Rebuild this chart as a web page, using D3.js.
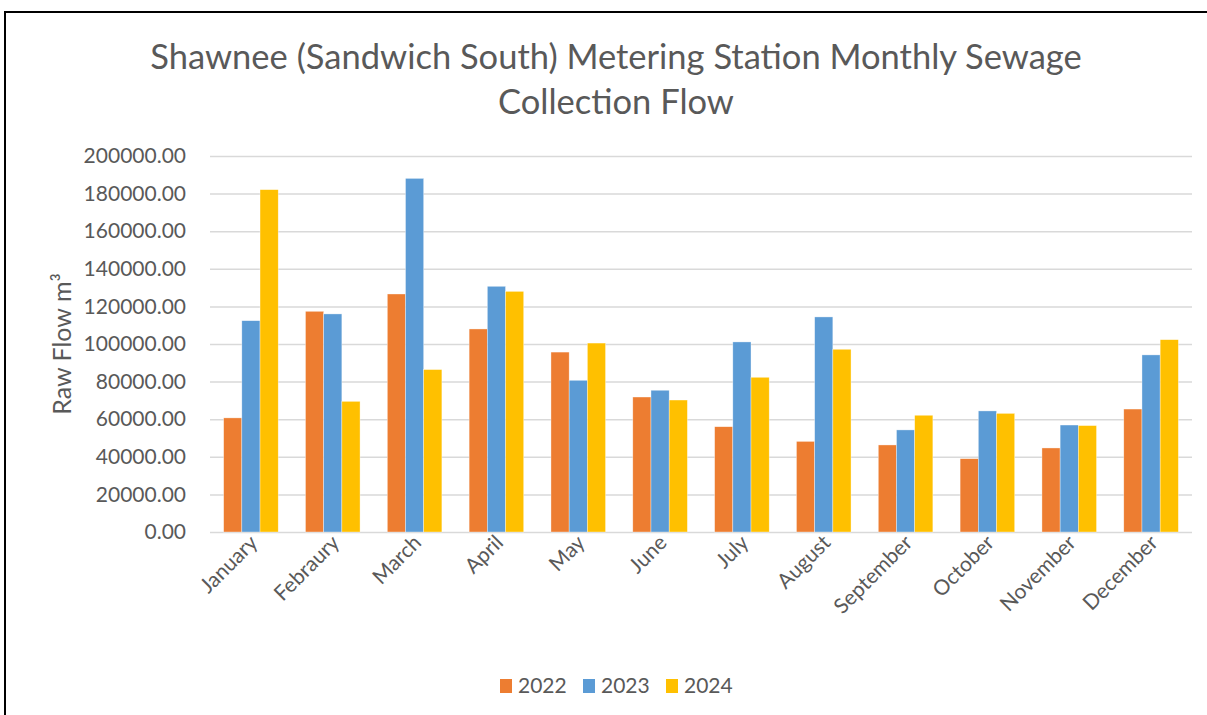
<!DOCTYPE html>
<html>
<head>
<meta charset="utf-8">
<script src="https://cdn.jsdelivr.net/npm/d3@7"></script>
<style>
  html, body { margin: 0; padding: 0; background: #fff; }
  text { font-family: Lato, "Open Sans", sans-serif; fill: #595959; }
</style>
</head>
<body>
<div id="chart"></div>
<script>
const months = ['January', 'Febraury', 'March', 'April', 'May', 'June', 'July',
  'August', 'September', 'October', 'November', 'December'];
const years = ['2022', '2023', '2024'];
const flow2022 = [60700, 117400, 126600, 108000, 95700, 71800, 56000, 48200, 46300, 39000, 44700, 65400];
const flow2023 = [112400, 116000, 188100, 130700, 80700, 75400, 101100, 114400, 54300, 64400, 56900, 94200];
const flow2024 = [182100, 69500, 86400, 128000, 100500, 70200, 82300, 97200, 62100, 63100, 56600, 102300];
const yTicks = [0, 20000, 40000, 60000, 80000, 100000, 120000, 140000, 160000, 180000, 200000];
const colors = ['#ED7D31', '#5B9BD5', '#FFC000'];

(function() {
  const W = 1207, H = 715;
  const margin = { top: 156, right: 15, bottom: 183, left: 210 };
  const width = W - margin.left - margin.right;
  const height = H - margin.top - margin.bottom;

  const svg = d3.select('#chart').append('svg')
    .attr('width', W).attr('height', H);

  // outer frame
  svg.append('rect')
    .attr('x', 5).attr('y', 12).attr('width', 1300).attr('height', 800)
    .attr('fill', 'none').attr('stroke', '#000').attr('stroke-width', 2);

  // title
  const title = svg.append('text')
    .attr('text-anchor', 'middle')
    .attr('font-size', '34.5px');
  title.append('tspan').attr('x', 616).attr('y', 69)
    .text('Shawnee (Sandwich South) Metering Station Monthly Sewage');
  title.append('tspan').attr('x', 616).attr('y', 114)
    .text('Collection Flow');

  const g = svg.append('g')
    .attr('transform', `translate(${margin.left},${margin.top})`);

  const x0 = d3.scaleBand().domain(months).range([0, width]).paddingInner(0.333).paddingOuter(0.1667);
  const x1 = d3.scaleBand().domain(years).range([0, x0.bandwidth()]);
  const y = d3.scaleLinear().domain([0, 200000]).range([height, 0]);

  // grid
  g.append('g')
    .call(d3.axisLeft(y).tickValues(yTicks).tickSize(-width).tickFormat(''))
    .call(a => { a.select('.domain').remove(); a.selectAll('line').attr('stroke', '#D9D9D9').attr('stroke-width', 1.5); });

  // y tick labels
  g.append('g')
    .call(d3.axisLeft(y).tickValues(yTicks).tickSize(0).tickPadding(24).tickFormat(d => d.toFixed(2)))
    .call(a => {
      a.select('.domain').remove();
      a.selectAll('text').attr('font-size', '21px').attr('fill', '#595959')
        .attr('font-family', 'Lato, sans-serif');
    });

  // bars
  const series = [flow2022, flow2023, flow2024];
  series.forEach((vals, si) => {
    g.append('g').selectAll('rect')
      .data(vals)
      .join('rect')
      .attr('x', (d, i) => x0(months[i]) + x1(years[si]))
      .attr('y', d => y(d))
      .attr('width', x1.bandwidth())
      .attr('height', d => height - y(d))
      .attr('fill', colors[si])
      .attr('stroke', '#fff').attr('stroke-width', 0.6).attr('stroke-opacity', 0.6);
  });

  // x axis labels
  const xAxis = g.append('g')
    .attr('transform', `translate(0,${height})`)
    .call(d3.axisBottom(x0).tickSize(0).tickPadding(0))
    .call(a => a.select('.domain').remove());
  xAxis.selectAll('text')
    .attr('font-size', '21px').attr('fill', '#595959')
    .attr('font-family', 'Lato, sans-serif')
    .attr('text-anchor', 'end')
    .attr('dy', '0')
    .attr('transform', 'translate(8,12) rotate(-45)');

  // y axis title
  svg.append('text')
    .attr('transform', 'translate(71,344) rotate(-90)')
    .attr('text-anchor', 'middle')
    .attr('font-size', '25px')
    .text('Raw Flow m³');

  // legend
  const legend = svg.append('g').attr('transform', 'translate(500,685)');
  const item = legend.selectAll('g').data(years).join('g')
    .attr('transform', (d, i) => `translate(${i * 83},0)`);
  item.append('rect')
    .attr('x', 0).attr('y', -6).attr('width', 12).attr('height', 14)
    .attr('fill', (d, i) => colors[i]);
  item.append('text')
    .attr('x', 18).attr('y', 8)
    .attr('font-size', '21px')
    .text(d => d);
})();
</script>
</body>
</html>
